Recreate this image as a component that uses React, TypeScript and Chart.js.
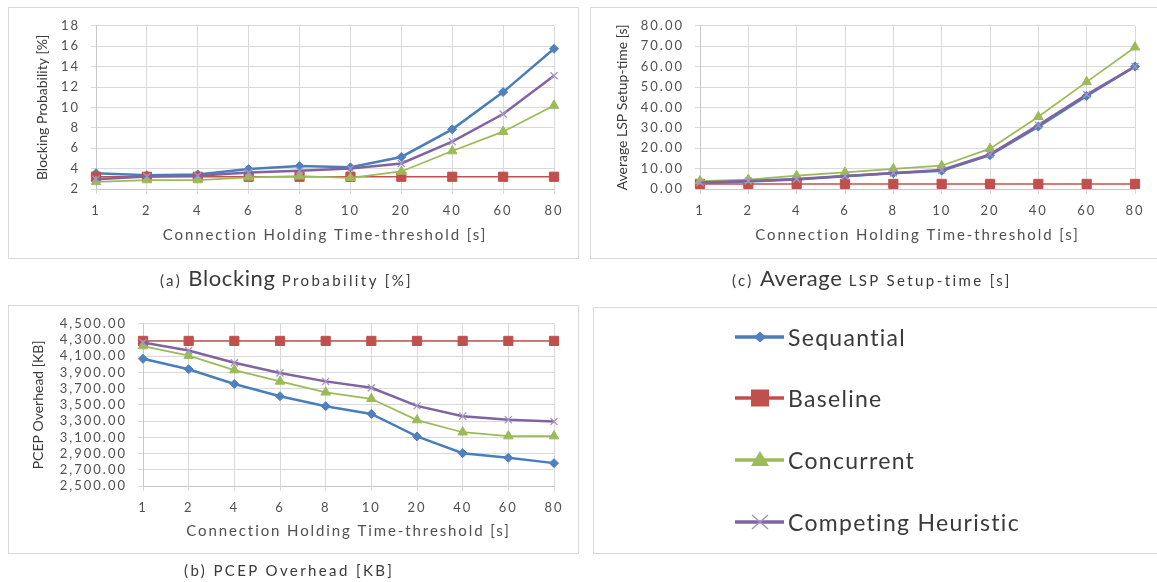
import React, { useEffect, useRef } from 'react';
import { Chart, registerables } from 'chart.js';

Chart.register(...registerables);

// ---------- data ----------
const categories = ['1', '2', '4', '6', '8', '10', '20', '40', '60', '80'];
const seriesNames = ['Sequantial', 'Baseline', 'Concurrent', 'Competing Heuristic'];
const xAxisTitle = 'Connection Holding Time-threshold [s]';

// (a) Blocking Probability [%]
const blockingSequential = [3.55, 3.35, 3.43, 3.95, 4.25, 4.13, 5.14, 7.85, 11.5, 15.75];
const blockingBaseline = [3.2, 3.2, 3.2, 3.2, 3.2, 3.2, 3.2, 3.2, 3.2, 3.2];
const blockingConcurrent = [2.7, 2.88, 2.88, 3.15, 3.25, 3.1, 3.72, 5.72, 7.62, 10.18];
const blockingCompeting = [2.95, 3.22, 3.3, 3.62, 3.8, 4.0, 4.5, 6.65, 9.35, 13.1];
const blockingTicks = { min: 2, max: 18, step: 2 };

// (c) Average LSP Setup-time [s]
const setupSequential = [3.0, 3.7, 4.7, 6.2, 7.7, 9.0, 16.6, 30.6, 45.6, 60.1];
const setupBaseline = [2.5, 2.5, 2.5, 2.5, 2.5, 2.5, 2.5, 2.5, 2.5, 2.5];
const setupConcurrent = [3.9, 4.6, 6.5, 8.1, 9.9, 11.4, 19.8, 35.4, 52.5, 69.5];
const setupCompeting = [3.2, 3.9, 4.9, 6.4, 7.9, 9.3, 17.0, 31.3, 46.3, 60.0];
const setupTicks = { min: 0, max: 80, step: 10 };

// (b) PCEP Overhead [KB]
const pcepSequential = [4068, 3940, 3758, 3607, 3484, 3389, 3111, 2905, 2849, 2782];
const pcepBaseline = [4289, 4289, 4289, 4289, 4289, 4289, 4289, 4289, 4289, 4289];
const pcepConcurrent = [4226, 4107, 3929, 3790, 3655, 3575, 3313, 3163, 3115, 3115];
const pcepCompeting = [4270, 4170, 4020, 3893, 3790, 3711, 3488, 3361, 3318, 3294];
const pcepTicks = { min: 2500, max: 4500, step: 200 };

// ---------- styles ----------
const lineColors = ['#4A7EBB', '#C0504D', '#9BBB59', '#8064A2'];
const markerFill = ['#4F81BD', '#C0504D', '#9BBB59', '#A595C4'];
const pointStyles = ['rectRot', 'rect', 'triangle', 'crossRot'];
const pointRadii = [4.5, 6.5, 5.5, 5];
const lineWidths = [2.5, 1.5, 1.75, 2.5];
const FONT = "Lato, 'Open Sans', sans-serif";
const TICK_COLOR = '#505050';
const TITLE_COLOR = '#3A3A3A';

Chart.defaults.font.family = FONT;

const SPACING: Record<string, { labels: string; title: string }> = {
  x: { labels: '2px', title: '1.9px' },
  y: { labels: '2px', title: '0px' },
};

const spacingPlugin = {
  id: 'letterSpacingPlugin',
  beforeDraw(chart: any) {
    Object.values(chart.scales).forEach((s: any) => {
      if (s.__spaced) return;
      const cfg = SPACING[s.id];
      if (!cfg) return;
      const origLabels = s.drawLabels;
      const origTitle = s.drawTitle;
      s.drawLabels = function (area: any) {
        const c: any = this.ctx;
        const prev = c.letterSpacing;
        c.letterSpacing = cfg.labels;
        origLabels.call(this, area);
        c.letterSpacing = prev;
      };
      s.drawTitle = function () {
        const c: any = this.ctx;
        const prev = c.letterSpacing;
        c.letterSpacing = cfg.title;
        origTitle.call(this);
        c.letterSpacing = prev;
      };
      s.__spaced = true;
    });
  },
};

type Panel = {
  values: number[][];
  ticks: { min: number; max: number; step: number };
  format: (v: number) => string;
  yTitle: string;
  left: number;
  top: number;
  width: number;
  height: number;
  padding: { left: number; top: number; right: number; bottom: number };
  yWidth: number;
  xHeight: number;
  yTitlePad: number;
};

const panels: Panel[] = [
  {
    values: [blockingSequential, blockingBaseline, blockingConcurrent, blockingCompeting],
    ticks: blockingTicks,
    format: (v) => String(v),
    yTitle: 'Blocking Probability [%]',
    left: 8, top: 7, width: 570, height: 251,
    padding: { left: 0, top: 14, right: 24, bottom: 14 },
    yWidth: 88, xHeight: 55, yTitlePad: 25.6,
  },
  {
    values: [setupSequential, setupBaseline, setupConcurrent, setupCompeting],
    ticks: setupTicks,
    format: (v) => v.toFixed(2),
    yTitle: 'Average LSP Setup-time [s]',
    left: 590, top: 7, width: 567, height: 251,
    padding: { left: 0, top: 13, right: 22, bottom: 14 },
    yWidth: 110, xHeight: 55, yTitlePad: 23.6,
  },
  {
    values: [pcepSequential, pcepBaseline, pcepConcurrent, pcepCompeting],
    ticks: pcepTicks,
    format: (v) => v.toLocaleString('en-US', { minimumFractionDigits: 2, maximumFractionDigits: 2 }),
    yTitle: 'PCEP Overhead [KB]',
    left: 8, top: 305, width: 570, height: 248,
    padding: { left: 0, top: 13, right: 24, bottom: 13 },
    yWidth: 135, xHeight: 54, yTitlePad: 21.6,
  },
];

function makeConfig(p: Panel): any {
  return {
    type: 'line',
    data: {
      labels: categories,
      datasets: seriesNames.map((name, i) => ({
        label: name,
        data: p.values[i],
        borderColor: lineColors[i],
        backgroundColor: markerFill[i],
        pointBackgroundColor: markerFill[i],
        pointBorderColor: markerFill[i],
        pointStyle: pointStyles[i],
        pointRadius: pointRadii[i],
        pointBorderWidth: i === 3 ? 1.3 : 1,
        borderWidth: lineWidths[i],
        tension: 0,
        clip: false,
        order: 4 - i,
      })),
    },
    options: {
      responsive: false,
      animation: false,
      events: [],
      layout: { padding: p.padding },
      plugins: { legend: { display: false }, tooltip: { enabled: false } },
      scales: {
        x: {
          offset: false,
          grid: { color: '#D9D9D9', tickLength: 5 },
          border: { color: '#C8C8C8' },
          ticks: { color: TICK_COLOR, font: { size: 13 }, padding: 9, autoSkip: false, maxRotation: 0 },
          title: { display: true, text: xAxisTitle, color: TICK_COLOR, font: { size: 15 }, padding: 0 },
          afterFit: (s: any) => { s.height = p.xHeight; },
        },
        y: {
          min: p.ticks.min,
          max: p.ticks.max,
          grid: { color: '#D9D9D9', tickLength: 5 },
          border: { color: '#C8C8C8' },
          ticks: {
            stepSize: p.ticks.step, autoSkip: false, color: TICK_COLOR, font: { size: 13 }, padding: 11,
            callback: (v: any) => p.format(Number(v)),
          },
          title: { display: true, text: p.yTitle, color: TITLE_COLOR, font: { size: 14 }, padding: { top: p.yTitlePad, bottom: 0 } },
          afterFit: (s: any) => { s.width = p.yWidth; },
        },
      },
    },
    plugins: [spacingPlugin],
  };
}

function ChartPanel({ p }: { p: Panel }) {
  const ref = useRef<HTMLCanvasElement | null>(null);
  useEffect(() => {
    if (!ref.current) return;
    const chart = new Chart(ref.current, makeConfig(p));
    return () => chart.destroy();
  }, [p]);
  return (
    <canvas
      ref={ref}
      width={p.width}
      height={p.height}
      style={{ position: 'absolute', left: p.left, top: p.top, width: p.width, height: p.height }}
    />
  );
}

function Box({ left, top, width, height }: { left: number; top: number; width: number; height: number }) {
  return (
    <div style={{ position: 'absolute', left, top, width, height, border: '1px solid #D9D9D9', boxSizing: 'border-box' }} />
  );
}

function Marker({ i, cx, cy }: { i: number; cx: number; cy: number }) {
  const c = markerFill[i];
  if (i === 0) return <polygon points={`${cx},${cy - 5.5} ${cx + 6},${cy} ${cx},${cy + 5.5} ${cx - 6},${cy}`} fill={c} />;
  if (i === 1) return <rect x={cx - 9} y={cy - 8.5} width={18} height={17} fill={c} />;
  if (i === 2) return <polygon points={`${cx},${cy - 9} ${cx + 9},${cy + 6} ${cx - 9},${cy + 6}`} fill={c} />;
  return (
    <g stroke={c} strokeWidth={1.5}>
      <line x1={cx - 8} y1={cy - 7} x2={cx + 8} y2={cy + 7} />
      <line x1={cx - 8} y1={cy + 7} x2={cx + 8} y2={cy - 7} />
    </g>
  );
}

const legendY = [337, 398, 460, 522];

function Legend() {
  return (
    <>
      <svg width={1157} height={582} style={{ position: 'absolute', left: 0, top: 0 }}>
        {seriesNames.map((_, i) => (
          <g key={i}>
            <line x1={735} y1={legendY[i]} x2={784} y2={legendY[i]} stroke={lineColors[i]} strokeWidth={3.5} />
            <Marker i={i} cx={760} cy={legendY[i]} />
          </g>
        ))}
      </svg>
      {seriesNames.map((name, i) => (
        <div
          key={name}
          style={{
            position: 'absolute', left: 788, top: legendY[i] - 16, height: 32, lineHeight: '32px',
            fontFamily: FONT, fontSize: 23, letterSpacing: '1.3px', color: '#3A3A3A', whiteSpace: 'nowrap',
          }}
        >
          {name}
        </div>
      ))}
    </>
  );
}

function Caption({ left, baseline, parts }: { left: number; baseline: number; parts: [string, number][] }) {
  return (
    <div
      style={{
        position: 'absolute', left, top: baseline - 20, height: 26, lineHeight: '26px',
        fontFamily: FONT, color: '#3A3A3A', whiteSpace: 'pre',
      }}
    >
      {parts.map(([t, s], k) => (
        <span key={k} style={{ fontSize: s, letterSpacing: s > 18 ? '0.6px' : '2.4px' }}>{t}</span>
      ))}
    </div>
  );
}

export default function App() {
  return (
    <div style={{ position: 'absolute', left: 0, top: 0, width: 1157, height: 582, overflow: 'hidden', background: '#fff' }}>
      <Box left={8} top={7} width={571} height={252} />
      <Box left={590} top={7} width={580} height={252} />
      <Box left={8} top={305} width={571} height={249} />
      <Box left={593} top={307} width={580} height={247} />
      {panels.map((p, k) => <ChartPanel key={k} p={p} />)}
      <Legend />
      <Caption left={160} baseline={285} parts={[['(a) ', 15], ['Blocking', 22], [' Probability [%]', 15]]} />
      <Caption left={732} baseline={285} parts={[['(c) ', 15], ['Average', 22], [' LSP Setup-time [s]', 15]]} />
      <Caption left={184} baseline={577} parts={[['(b) PCEP Overhead [KB]', 15]]} />
    </div>
  );
}
